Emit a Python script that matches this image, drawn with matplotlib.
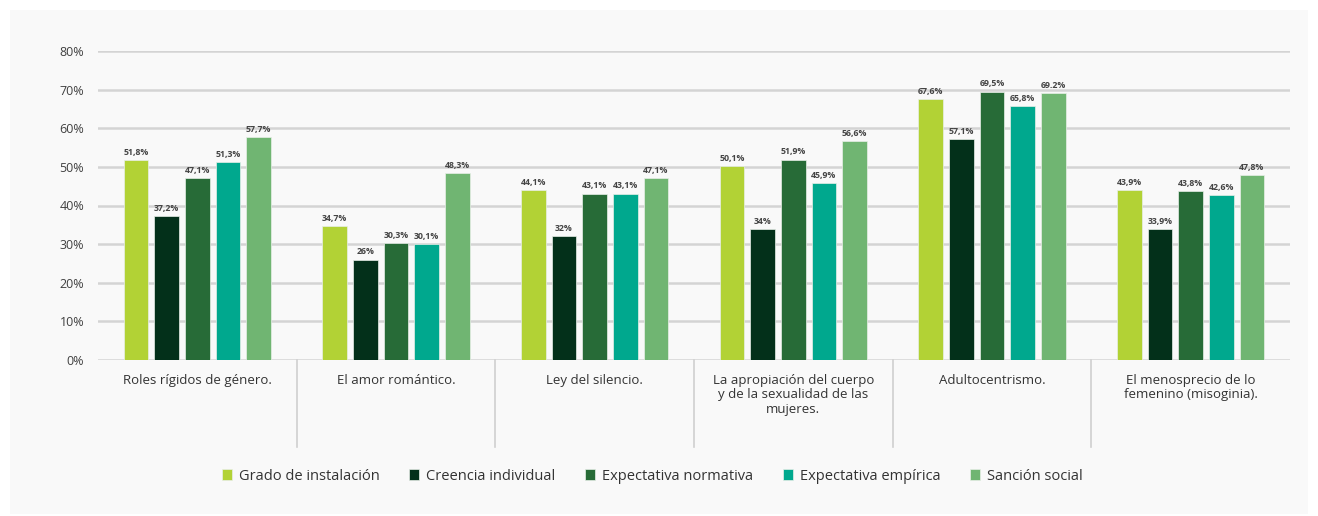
import matplotlib

matplotlib.use("Agg")
import matplotlib.pyplot as plt
import numpy as np
from matplotlib.patches import Rectangle
from matplotlib.transforms import blended_transform_factory

categories = [
    "Roles rígidos de género.",
    "El amor romántico.",
    "Ley del silencio.",
    "La apropiación del cuerpo\ny de la sexualidad de las\nmujeres.",
    "Adultocentrismo.",
    "El menosprecio de lo\nfemenino (misoginia).",
]
series_names = [
    "Grado de instalación",
    "Creencia individual",
    "Expectativa normativa",
    "Expectativa empírica",
    "Sanción social",
]
grado = [51.8, 34.7, 44.1, 50.1, 67.6, 43.9]
creencia = [37.2, 26.0, 32.0, 34.0, 57.1, 33.9]
normativa = [47.1, 30.3, 43.1, 51.9, 69.5, 43.8]
empirica = [51.3, 30.1, 43.1, 45.9, 65.8, 42.6]
sancion = [57.7, 48.3, 47.1, 56.6, 69.2, 47.8]
grado_lbl = ["51,8%", "34,7%", "44,1%", "50,1%", "67,6%", "43,9%"]
creencia_lbl = ["37,2%", "26%", "32%", "34%", "57,1%", "33,9%"]
normativa_lbl = ["47,1%", "30,3%", "43,1%", "51,9%", "69,5%", "43,8%"]
empirica_lbl = ["51,3%", "30,1%", "43,1%", "45,9%", "65,8%", "42,6%"]
sancion_lbl = ["57,7%", "48,3%", "47,1%", "56,6%", "69.2%", "47,8%"]
yticks = [0, 10, 20, 30, 40, 50, 60, 70, 80]

colors = ["#b2d235", "#03301a", "#276b37", "#00a88e", "#70b572"]

plt.rcParams["font.family"] = ["Open Sans", "DejaVu Sans"]

fig = plt.figure(figsize=(13.18, 5.16), dpi=100, facecolor="white")
fig.patches.append(
    Rectangle((10 / 1318, 2 / 516), 1298 / 1318, 504 / 516, transform=fig.transFigure,
              facecolor="#f9f9f9", edgecolor="none", zorder=-10)
)
ax = fig.add_axes([98 / 1318, 1 - 360 / 516, (1290 - 98) / 1318, 309 / 516])
ax.set_facecolor("none")

values = [grado, creencia, normativa, empirica, sancion]
labels = [grado_lbl, creencia_lbl, normativa_lbl, empirica_lbl, sancion_lbl]
x = np.arange(len(categories))
step = 0.154
width = 0.124
handles = []
for i, (vals, lbls) in enumerate(zip(values, labels)):
    pos = x + (i - 2) * step
    bars = ax.bar(pos, vals, width, color=colors[i], edgecolor="#e8efe8", linewidth=0.5,
                  label=series_names[i], zorder=3)
    handles.append(bars)
    for p, v, t in zip(pos, vals, lbls):
        ax.text(p, v + 0.8, t, ha="center", va="bottom", fontsize=6.3,
                fontweight="bold", color="#444444", zorder=4)

ax.set_xlim(-0.5, len(categories) - 0.5)
ax.set_ylim(0, 80)
ax.set_yticks(yticks)
ax.set_yticklabels([f"{t}%" for t in yticks], fontsize=9, color="#404040")
ax.yaxis.grid(True, color="#d4d4d4", linewidth=1.8, zorder=0)
ax.set_axisbelow(True)
for s in ax.spines.values():
    s.set_visible(False)
ax.tick_params(axis="y", length=0, pad=10)
ax.tick_params(axis="x", length=0)
ax.set_xticks([])

trans = blended_transform_factory(ax.transData, ax.transAxes)
for i, c in enumerate(categories):
    ax.text(i, -0.045, c, transform=trans, ha="center", va="top", fontsize=9.5,
            color="#333333", linespacing=1.15)
for k in range(1, len(categories)):
    ax.plot([k - 0.5, k - 0.5], [0, -0.28], transform=trans, color="#d0d0d0",
            linewidth=1.2, clip_on=False)

fig.legend(handles, series_names, loc="center", bbox_to_anchor=(0.495, 1 - 476 / 516),
           ncol=5, frameon=False, fontsize=10.5, handlelength=0.7, handleheight=0.7,
           handletextpad=0.5, columnspacing=2.0, labelcolor="#333333")

fig.savefig("out.png", dpi=100, facecolor="white")
